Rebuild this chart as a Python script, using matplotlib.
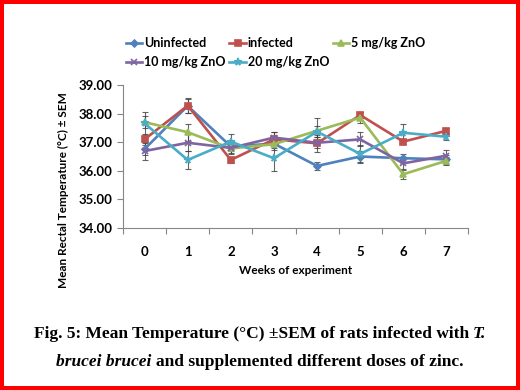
import matplotlib
matplotlib.use("Agg")
import matplotlib.pyplot as plt
from matplotlib.ticker import FixedLocator, FormatStrFormatter, NullFormatter

# Data
weeks = [0, 1, 2, 3, 4, 5, 6, 7]
week_labels = ["0", "1", "2", "3", "4", "5", "6", "7"]

uninfected = [36.76, 38.27, 36.85, 36.95, 36.17, 36.50, 36.44, 36.40]
infected = [37.10, 38.28, 36.38, 37.10, 36.96, 37.95, 37.02, 37.40]
zno_5 = [37.70, 37.35, 36.78, 36.93, 37.40, 37.86, 35.88, 36.35]
zno_10 = [36.69, 36.98, 36.80, 37.16, 36.98, 37.10, 36.26, 36.53]
zno_20 = [37.66, 36.38, 37.02, 36.44, 37.37, 36.59, 37.33, 37.19]

uninfected_sem = [0.20, 0.25, 0.15, 0.15, 0.15, 0.20, 0.15, 0.15]
infected_sem = [0.20, 0.25, 0.10, 0.25, 0.30, 0.10, 0.10, 0.10]
zno_5_sem = [0.20, 0.30, 0.15, 0.20, 0.45, 0.20, 0.15, 0.15]
zno_10_sem = [0.30, 0.30, 0.20, 0.20, 0.20, 0.25, 0.20, 0.20]
zno_20_sem = [0.40, 0.30, 0.25, 0.45, 0.20, 0.30, 0.30, 0.10]

series = [
    ("Uninfected", uninfected, uninfected_sem, "#4F81BD", "D", 3.5),
    ("infected", infected, infected_sem, "#C0504D", "s", 4.5),
    ("5 mg/kg ZnO", zno_5, zno_5_sem, "#9BBB59", "^", 4.5),
    ("10 mg/kg ZnO", zno_10, zno_10_sem, "#8064A2", "x", 4.5),
    ("20 mg/kg ZnO", zno_20, zno_20_sem, "#4BACC6", "*", 5.5),
]

plt.rcParams["font.family"] = ["Lato", "DejaVu Sans"]

fig = plt.figure(figsize=(5.2, 3.9), dpi=100)
fig.patch.set_facecolor("white")

ax = fig.add_axes([123 / 520, 1 - 228 / 390, 345 / 520, 143 / 390])

handles = {}
for name, vals, sem, color, marker, ms in series:
    ax.errorbar(weeks, vals, yerr=sem, fmt="none", ecolor="#404040",
                elinewidth=0.8, capsize=2, capthick=0.8, zorder=2, alpha=0.8)
    (line,) = ax.plot(weeks, vals, color=color, marker=marker, markersize=ms,
                      linewidth=1.9, markeredgewidth=1.2, zorder=3, label=name)
    handles[name] = line

ax.set_xlim(-0.5, 7.5)
ax.set_ylim(34, 39)
ax.set_yticks([34, 35, 36, 37, 38, 39])
ax.yaxis.set_major_formatter(FormatStrFormatter("%.2f"))

# Excel-style category axis: ticks between categories, labels at centres
ax.xaxis.set_major_locator(FixedLocator([i - 0.5 for i in range(9)]))
ax.xaxis.set_major_formatter(NullFormatter())
ax.xaxis.set_minor_locator(FixedLocator(weeks))
ax.set_xticklabels(week_labels, minor=True)
ax.tick_params(axis="x", which="major", length=4, color="#868686", width=0.8)
ax.tick_params(axis="x", which="minor", length=0, pad=13, labelsize=9.5)
ax.tick_params(axis="y", length=4, color="#868686", width=0.8, labelsize=9.5)
for lbl in ax.get_xticklabels(minor=True) + ax.get_yticklabels():
    lbl.set_fontweight("bold")

for side in ["top", "right"]:
    ax.spines[side].set_visible(False)
for side in ["left", "bottom"]:
    ax.spines[side].set_color("#868686")
    ax.spines[side].set_linewidth(0.8)

fig.text(296 / 520, 1 - 271 / 390, "Weeks of experiment", ha="center",
         va="center", fontsize=8.5, fontweight="bold")
fig.text(63 / 520, 1 - 190 / 390, "Mean Rectal Temperature (°C) ± SEM",
         ha="center", va="center", rotation=90, fontsize=8.5, fontweight="bold")

# Legend filled column-wise, so order handles to read row by row
order = ["Uninfected", "10 mg/kg ZnO", "infected", "20 mg/kg ZnO", "5 mg/kg ZnO"]
fig.legend([handles[n] for n in order], order, ncol=3, loc="upper left",
           bbox_to_anchor=(126 / 520, 1 - 37 / 390), frameon=False,
           prop={"weight": "bold", "size": 9}, handlelength=1.3,
           handletextpad=0.15, columnspacing=0.3, labelspacing=0.6,
           borderaxespad=0, borderpad=0)

# Caption with mixed bold / bold-italic serif text
serif = ["Liberation Serif", "DejaVu Serif"]
cap_size = 12.5
renderer = fig.canvas.get_renderer()


def place_line(parts, y):
    texts = []
    for txt, style in parts:
        t = fig.text(0, y, txt, ha="left", va="center", fontsize=cap_size,
                     fontweight="bold", fontstyle=style, family=serif)
        texts.append(t)
    widths = [t.get_window_extent(renderer).width for t in texts]
    space = cap_size * 100 / 72 * 0.25
    total = sum(widths) + space * (len(texts) - 1)
    x = (520 - total) / 2
    for t, w in zip(texts, widths):
        t.set_x(x / 520)
        x += w + space


place_line([("Fig. 5: Mean Temperature (°C) ±SEM of rats infected with", "normal"),
            ("T.", "italic")], 1 - 334 / 390)
place_line([("brucei brucei", "italic"),
            ("and supplemented different doses of zinc.", "normal")], 1 - 362 / 390)

# red frame around the whole picture
fig.patch.set_edgecolor("red")
fig.patch.set_linewidth(4.5)

fig.savefig("out.png", dpi=100, facecolor=fig.get_facecolor(),
            edgecolor=fig.get_edgecolor())
